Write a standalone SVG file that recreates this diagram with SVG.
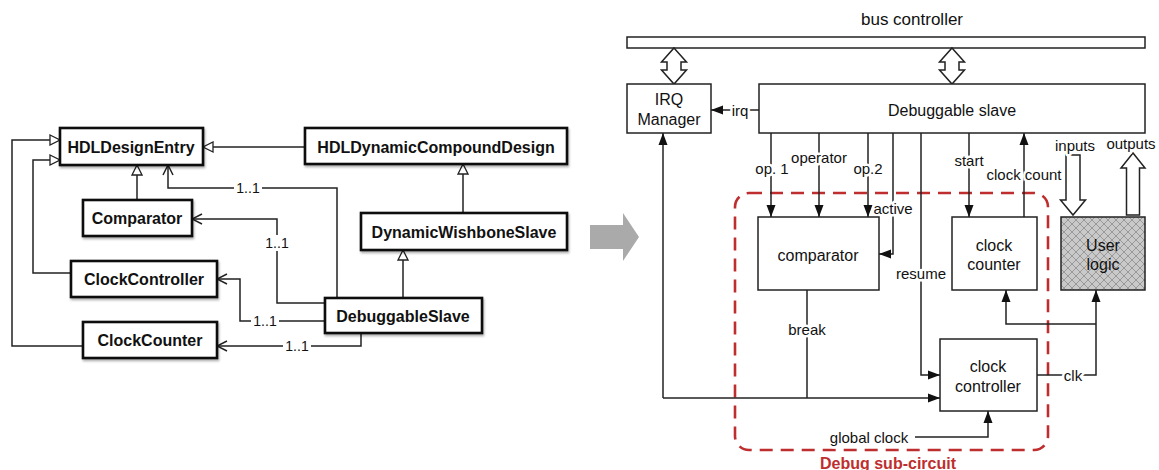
<svg xmlns="http://www.w3.org/2000/svg" width="1159" height="470" viewBox="0 0 1159 470">
<style>
.t{font-family:"Liberation Sans",Arial,sans-serif;fill:#111;text-anchor:middle;dominant-baseline:central}
.b{font-weight:bold;font-size:16px}
.n{font-size:16px}
.lbl{font-size:14px}
.bg{fill:#fff;stroke:none}
.rl{font-size:15px;stroke:#fff;stroke-width:5px;paint-order:stroke;stroke-linejoin:round}
.cls{fill:#fff;stroke:#111;stroke-width:2.6}
.box{fill:#fff;stroke:#222;stroke-width:1.5}
.ln{fill:none;stroke:#222;stroke-width:1.5}
.gen{marker-end:url(#tri)}
.asc{marker-end:url(#open)}
.arr{marker-end:url(#fill)}
</style>
<defs>
<marker id="tri" markerUnits="userSpaceOnUse" markerWidth="12" markerHeight="12" refX="11" refY="6" orient="auto"><path d="M1,1 L11,6 L1,11 Z" fill="#fff" stroke="#222" stroke-width="1.3"/></marker>
<marker id="open" markerUnits="userSpaceOnUse" markerWidth="12" markerHeight="12" refX="11" refY="6" orient="auto"><path d="M1,1 L11,6 L1,11" fill="none" stroke="#222" stroke-width="1.5"/></marker>
<marker id="fill" markerUnits="userSpaceOnUse" markerWidth="12" markerHeight="12" refX="12" refY="6" orient="auto"><path d="M0,1.5 L12,6 L0,10.5 Z" fill="#111"/></marker>
<pattern id="hatch" width="8" height="8" patternUnits="userSpaceOnUse"><rect width="8" height="8" fill="#c9c9c9"/><path d="M0,0 L8,8 M8,0 L0,8" stroke="#999" stroke-width="1"/></pattern>
<filter id="sh" x="-10%" y="-20%" width="130%" height="160%"><feDropShadow dx="1" dy="2" stdDeviation="1.2" flood-color="#000" flood-opacity="0.3"/></filter>
</defs>

<!-- Left UML class diagram connectors -->
<g id="uml-connectors">
<path class="ln gen" d="M83,346 H12 V140 H60"/>
<path class="ln gen" d="M71,273 H33 V160 H60"/>
<path class="ln gen" d="M137,200 V165"/>
<path class="ln gen" d="M305,147 H203"/>
<path class="ln gen" d="M463,213 V164"/>
<path class="ln gen" d="M403,298 V250"/>
<path class="ln asc" d="M337,298 V188 H168 V165"/>
<path class="ln asc" d="M325,303 H277 V219 H192"/>
<path class="ln asc" d="M325,321 H240 V279 H217"/>
<path class="ln asc" d="M361,333 V346 H217"/>
<rect class="bg" x="234" y="180" width="28" height="16"/><text class="t lbl" x="248" y="188">1..1</text>
<rect class="bg" x="263" y="235" width="28" height="16"/><text class="t lbl" x="277" y="243">1..1</text>
<rect class="bg" x="251" y="313" width="28" height="16"/><text class="t lbl" x="265" y="321">1..1</text>
<rect class="bg" x="283" y="338" width="28" height="16"/><text class="t lbl" x="297" y="346">1..1</text>
</g>

<g id="HDLDesignEntry"><rect class="cls" filter="url(#sh)" x="60" y="128" width="143" height="37"/><text class="t b" x="131" y="147">HDLDesignEntry</text></g>
<g id="HDLDynamicCompoundDesign"><rect class="cls" filter="url(#sh)" x="305" y="128" width="262" height="36"/><text class="t b" x="436" y="147">HDLDynamicCompoundDesign</text></g>
<g id="Comparator"><rect class="cls" filter="url(#sh)" x="83" y="200" width="109" height="36"/><text class="t b" x="137" y="218">Comparator</text></g>
<g id="DynamicWishboneSlave"><rect class="cls" filter="url(#sh)" x="361" y="213" width="206" height="37"/><text class="t b" x="464" y="232">DynamicWishboneSlave</text></g>
<g id="ClockController"><rect class="cls" filter="url(#sh)" x="71" y="261" width="146" height="36"/><text class="t b" x="144" y="279">ClockController</text></g>
<g id="ClockCounter"><rect class="cls" filter="url(#sh)" x="83" y="322" width="134" height="36"/><text class="t b" x="150" y="340">ClockCounter</text></g>
<g id="DebuggableSlave"><rect class="cls" filter="url(#sh)" x="325" y="298" width="157" height="35"/><text class="t b" x="403" y="316">DebuggableSlave</text></g>

<!-- grey transition arrow -->
<g id="transition-arrow"><path d="M590,225 H623 V213 L639,237 L623,261 V249 H590 Z" fill="#aaa"/></g>

<!-- Right block diagram -->
<g id="bus-controller"><text class="t" x="912" y="19" style="font-size:17px">bus controller</text><rect class="box" x="627" y="37" width="518" height="11"/></g>

<g id="bus-arrows">
<path class="box" d="M674,48 L686.5,62 H681 V70 H686.5 L674,84 L661.5,70 H667 V62 H661.5 Z"/>
<path class="box" d="M952,48 L964.5,62 H959 V70 H964.5 L952,84 L939.5,70 H945 V62 H939.5 Z"/>
</g>

<g id="debug-subcircuit"><rect x="735" y="193" width="313" height="257" rx="14" fill="none" stroke="#bf2e2e" stroke-width="2.6" stroke-dasharray="13,8"/><text class="t" x="888" y="463" style="font-size:16px;font-weight:bold;fill:#bf2e2e">Debug sub-circuit</text></g>

<g id="connectors">
<path class="ln arr" d="M759,110 H711"/>
<text class="t rl" x="740" y="110">irq</text>
<path class="ln arr" d="M771,133 V217"/>
<path class="ln arr" d="M819,133 V217"/>
<path class="ln arr" d="M868,133 V217"/>
<path class="ln arr" d="M893,133 V254 H879"/>
<path class="ln arr" d="M921,133 V375 H940"/>
<path class="ln arr" d="M969,133 V217"/>
<path class="ln arr" d="M1024,217 V133"/>
<path class="ln" d="M807,290 V398"/>
<path class="ln arr" d="M663,398 H940"/>
<path class="ln arr" d="M663,398 V133"/>
<path class="ln arr" d="M915,437 H988 V411"/>
<path class="ln arr" d="M1037,375 H1096 V290"/>
<path class="ln arr" d="M1096,324 H1006 V290"/>
<path class="box" d="M1066,155 H1080 V200 H1085.5 L1073,215 L1060.5,200 H1066 Z"/>
<path class="box" d="M1133,153 L1145,168 H1139.5 V215 H1126.5 V168 H1121 Z"/>
<text class="t rl" x="772" y="168">op. 1</text>
<text class="t rl" x="819" y="157">operator</text>
<text class="t rl" x="868" y="168">op.2</text>
<text class="t rl" x="893" y="208">active</text>
<text class="t rl" x="921" y="273">resume</text>
<text class="t rl" x="969" y="160">start</text>
<text class="t rl" x="1024" y="174">clock count</text>
<text class="t rl" x="807" y="329">break</text>
<text class="t rl" x="869" y="437">global clock</text>
<text class="t rl" x="1073" y="375">clk</text>
<text class="t rl" x="1075" y="145">inputs</text>
<text class="t rl" x="1131" y="143">outputs</text>
</g>

<g id="irq-manager"><rect class="box" x="627" y="84" width="84" height="49"/><text class="t n" x="669" y="99">IRQ</text><text class="t n" x="669" y="119">Manager</text></g>
<g id="debuggable-slave"><rect class="box" x="759" y="84" width="386" height="49"/><text class="t" x="952" y="110" style="font-size:16px">Debuggable slave</text></g>
<g id="comparator"><rect class="box" x="758" y="217" width="121" height="73"/><text class="t n" x="818" y="255">comparator</text></g>
<g id="clock-counter"><rect class="box" x="952" y="217" width="85" height="73"/><text class="t n" x="994" y="245">clock</text><text class="t n" x="994" y="264">counter</text></g>
<g id="user-logic"><rect x="1061" y="217" width="84" height="73" fill="url(#hatch)" stroke="#222" stroke-width="1.5"/><text class="t n" x="1103" y="245">User</text><text class="t n" x="1103" y="264">logic</text></g>
<g id="clock-controller"><rect class="box" x="940" y="339" width="97" height="72"/><text class="t n" x="988" y="366">clock</text><text class="t n" x="988" y="386">controller</text></g>
</svg>
